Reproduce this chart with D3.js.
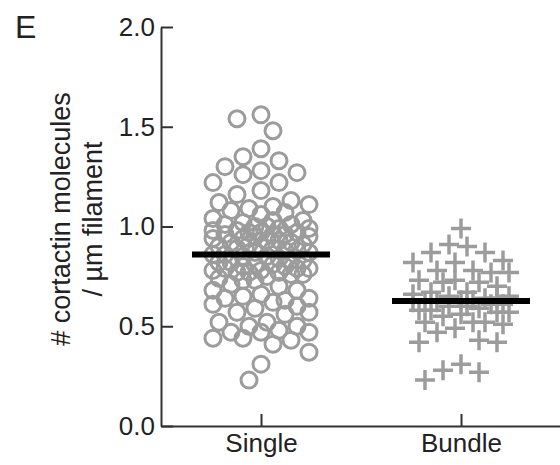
<!DOCTYPE html>
<html>
<head>
<meta charset="utf-8">
<script src="https://cdn.jsdelivr.net/npm/d3@7"></script>
<style>
  body { margin: 0; background: #fff; }
  text { font-family: "Liberation Sans", Arial, Helvetica, sans-serif; fill: #222; }
</style>
</head>
<body>
<div id="chart"></div>
<script>
// Data
const groups = ["Single", "Bundle"];

const singleValues = [
  1.56, 1.54, 1.48, 1.39, 1.35, 1.33, 1.30, 1.28, 1.27, 1.26, 1.22, 1.22, 1.18,
  1.16, 1.13, 1.12, 1.11, 1.10, 1.09, 1.08, 1.07, 1.06,
  1.04, 1.03, 1.03, 1.02, 1.01, 1.00, 1.00, 0.99, 0.99, 0.98,
  0.98, 0.97, 0.97, 0.96, 0.96, 0.96, 0.95, 0.95, 1.01, 0.97,
  0.94, 0.94, 0.93, 0.93, 0.92, 0.91, 0.91, 0.90, 0.90, 0.89,
  0.89, 0.88, 0.88, 0.87, 0.87, 0.86, 0.86, 0.85, 0.85, 0.92,
  0.84, 0.83, 0.83, 0.82, 0.82, 0.81, 0.80, 0.80, 0.79, 0.79,
  0.78, 0.78, 0.77, 0.77, 0.76, 0.76, 0.75, 0.81, 0.79, 0.77,
  0.74, 0.73, 0.73, 0.71, 0.70, 0.68, 0.68, 0.66, 0.65, 0.64,
  0.64, 0.62, 0.61, 0.60, 0.63,
  0.59, 0.57, 0.57, 0.56, 0.52, 0.52, 0.50, 0.50, 0.48, 0.47,
  0.47, 0.47, 0.44, 0.44, 0.43, 0.41, 0.37, 0.31, 0.23
];

const bundleValues = [
  0.99, 0.91, 0.90, 0.87, 0.87, 0.83, 0.82, 0.82, 0.78, 0.77,
  0.77, 0.78, 0.72, 0.72, 0.73, 0.73, 0.70, 0.67, 0.67,
  0.66, 0.65, 0.65, 0.64, 0.64, 0.63, 0.63, 0.62, 0.62, 0.61,
  0.61, 0.60, 0.60, 0.59, 0.58, 0.62,
  0.58, 0.57, 0.57, 0.56, 0.55, 0.52, 0.52, 0.52, 0.51, 0.49,
  0.47, 0.43, 0.42, 0.42, 0.31, 0.28, 0.27, 0.23
];

const yTicks = [0, 0.5, 1.0, 1.5, 2.0];

const width = 560, height = 465;

const svg = d3.select("#chart").append("svg")
    .attr("width", width)
    .attr("height", height);

const x = d3.scalePoint()
    .domain(groups)
    .range([161, 561])
    .padding(0.5);

const y = d3.scaleLinear()
    .domain([0, 2])
    .range([426, 27]);

// simple beeswarm: nearest free slot to the centre, least overlap when full
function swarm(values, step, maxSteps, minDist) {
    const offsets = [0];
    for (let i = 1; i <= maxSteps; i++) offsets.push(-i * step, i * step);
    const placed = [];
    values.slice().sort((a, b) => b - a).forEach(v => {
        const py = y(v);
        let best = null, bestScore = -1;
        for (const o of offsets) {
            let dmin = Infinity;
            placed.forEach(p => {
                const d = Math.hypot(p.dx - o, p.py - py);
                if (d < dmin) dmin = d;
            });
            if (dmin >= minDist) { best = o; bestScore = Infinity; break; }
            if (dmin > bestScore) { bestScore = dmin; best = o; }
        }
        placed.push({ value: v, dx: best, py: py });
    });
    return placed;
}

const grey = "#9c9c9c";

// axes
const yAxis = d3.axisLeft(y)
    .tickValues(yTicks)
    .tickFormat(d3.format(".1f"))
    .tickSizeInner(-12)
    .tickSizeOuter(0)
    .tickPadding(6);

const gy = svg.append("g")
    .attr("transform", "translate(161,0)")
    .call(yAxis);

const xAxis = d3.axisBottom(x)
    .tickSizeInner(-12)
    .tickSizeOuter(0)
    .tickPadding(8);

const gx = svg.append("g")
    .attr("transform", "translate(0,426)")
    .call(xAxis);

[gy, gx].forEach(g => {
    g.select(".domain").attr("stroke", "#333").attr("stroke-width", 2);
    g.selectAll(".tick line").attr("stroke", "#333").attr("stroke-width", 2);
    g.selectAll(".tick text")
        .attr("font-size", 26)
        .attr("fill", "#222")
        .style("font-family", "'Liberation Sans', Arial, sans-serif");
});

// Single: open circles
const singlePts = swarm(singleValues, 6, 8, 19);
svg.append("g").selectAll("circle")
    .data(singlePts)
    .join("circle")
    .attr("cx", d => x("Single") + d.dx)
    .attr("cy", d => d.py)
    .attr("r", 8)
    .attr("fill", "none")
    .attr("stroke", grey)
    .attr("stroke-width", 3);

// Bundle: plus signs
const bundlePts = swarm(bundleValues, 6, 8, 18);
const arm = 10;
svg.append("g").selectAll("path")
    .data(bundlePts)
    .join("path")
    .attr("d", d => {
        const cx = x("Bundle") + d.dx, cy = d.py;
        return `M${cx - arm},${cy}H${cx + arm}M${cx},${cy - arm}V${cy + arm}`;
    })
    .attr("fill", "none")
    .attr("stroke", grey)
    .attr("stroke-width", 3.5);

// mean lines
const means = [
    { group: "Single", value: d3.mean(singleValues) },
    { group: "Bundle", value: d3.mean(bundleValues) }
];
svg.append("g").selectAll("line")
    .data(means)
    .join("line")
    .attr("x1", d => x(d.group) - 69)
    .attr("x2", d => x(d.group) + 69)
    .attr("y1", d => y(d.value))
    .attr("y2", d => y(d.value))
    .attr("stroke", "#000")
    .attr("stroke-width", 6);

// y axis title (two lines)
svg.append("text")
    .attr("transform", "translate(70,219) rotate(-90)")
    .attr("text-anchor", "middle")
    .attr("font-size", 27)
    .text("# cortactin molecules");

svg.append("text")
    .attr("transform", "translate(102,219) rotate(-90)")
    .attr("text-anchor", "middle")
    .attr("font-size", 27)
    .text("/ µm filament");

// panel letter
svg.append("text")
    .attr("x", 15)
    .attr("y", 38)
    .attr("font-size", 32)
    .text("E");
</script>
</body>
</html>
